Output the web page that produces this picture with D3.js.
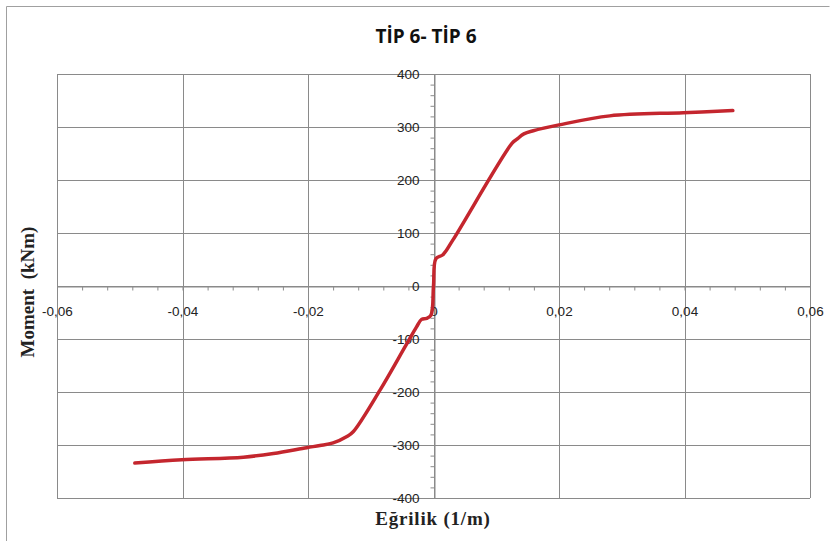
<!DOCTYPE html>
<html>
<head>
<meta charset="utf-8">
<script src="https://cdn.jsdelivr.net/npm/d3@7"></script>
<style>
  body { margin: 0; background: #fff; }
  svg { display: block; }
</style>
</head>
<body>
<svg id="canvas"></svg>
<script>
// curvature (1/m) vs moment (kNm)
let curvature = [-0.0476, -0.0401, -0.0303, -0.0255, -0.0202, -0.0181, -0.0160, -0.0138, -0.0128,
                 -0.0085, -0.0045, -0.0027, -0.0019, -0.0011, -0.0004, 0,
                 0.0004, 0.0015, 0.0031, 0.0125, 0.0133, 0.0144, 0.0159, 0.0200, 0.0281, 0.0398, 0.0477]
let moment = [-334, -328, -323, -316, -305, -301, -296, -284, -275,
              -196, -114, -77, -63, -61, -55, 0,
              52, 59, 87, 269, 277, 287, 293, 304, 321, 327, 331]

let xTicks = [-0.06, -0.04, -0.02, 0, 0.02, 0.04, 0.06]
let yTicks = [-400, -300, -200, -100, 0, 100, 200, 300, 400]

let width = 834
let height = 541
let plotLeft = 57, plotRight = 810, plotTop = 74, plotBottom = 498

let canvas = d3.select('#canvas')
canvas.attr('width', width)
      .attr('height', height)

let xScale = d3.scaleLinear().domain([-0.06, 0.06]).range([plotLeft, plotRight])
let yScale = d3.scaleLinear().domain([-400, 400]).range([plotBottom, plotTop])

// Turkish style: comma decimals, plain hyphen for minus
let locale = d3.formatLocale({decimal: ',', thousands: '.', grouping: [3], currency: ['', ''], minus: '-'})
let fmtX = (d) => d === 0 ? '0' : locale.format('.2f')(d)
let fmtY = locale.format('d')

/* chart frame (only left/top edges show) */
canvas.append('path')
      .attr('d', 'M6.5,560 V6.5 H829.5')
      .attr('fill', 'none')
      .attr('stroke', '#a0a0a0')

/* grid */
canvas.append('g').selectAll('line')
      .data(xTicks).enter().append('line')
      .attr('x1', (d) => Math.round(xScale(d)) + 0.5)
      .attr('x2', (d) => Math.round(xScale(d)) + 0.5)
      .attr('y1', plotTop).attr('y2', plotBottom)
      .attr('stroke', '#8a8a8a')
canvas.append('g').selectAll('line')
      .data(yTicks).enter().append('line')
      .attr('y1', (d) => Math.round(yScale(d)) + 0.5)
      .attr('y2', (d) => Math.round(yScale(d)) + 0.5)
      .attr('x1', plotLeft).attr('x2', plotRight)
      .attr('stroke', '#8a8a8a')

/* minor ticks on the zero axes */
let x0 = Math.round(xScale(0)) + 0.5
let y0 = Math.round(yScale(0)) + 0.5

let xMinor = canvas.append('g')
      .attr('transform', 'translate(0,' + y0 + ')')
      .call(d3.axisBottom(xScale)
              .tickValues(d3.range(-60, 61, 4).map((d) => d / 1000))
              .tickSize(4).tickSizeOuter(0).tickFormat(''))
xMinor.selectAll('line, path').attr('stroke', '#8a8a8a')

let yMinor = canvas.append('g')
      .attr('transform', 'translate(' + x0 + ',0)')
      .call(d3.axisLeft(yScale)
              .tickValues(d3.range(-400, 401, 20))
              .tickSize(4).tickSizeOuter(0).tickFormat(''))
yMinor.selectAll('line, path').attr('stroke', '#8a8a8a')

/* tick labels */
let xLab = canvas.append('g')
      .attr('transform', 'translate(0,' + y0 + ')')
      .call(d3.axisBottom(xScale).tickValues(xTicks).tickSize(0).tickPadding(20).tickFormat(fmtX))
xLab.select('.domain').remove()
xLab.selectAll('text')
    .attr('font-family', 'Liberation Sans, Arial, sans-serif')
    .attr('font-size', 13.5).attr('fill', '#222')

let yLab = canvas.append('g')
      .attr('transform', 'translate(' + x0 + ',0)')
      .call(d3.axisLeft(yScale).tickValues(yTicks).tickSize(0).tickPadding(15).tickFormat(fmtY))
yLab.select('.domain').remove()
yLab.selectAll('text')
    .attr('font-family', 'Liberation Sans, Arial, sans-serif')
    .attr('font-size', 13.5).attr('fill', '#222')

/* curve */
let line = d3.line()
    .x((d, i) => xScale(curvature[i]))
    .y((d, i) => yScale(moment[i]))
    .curve(d3.curveCatmullRom.alpha(0.5))

canvas.append('path')
      .datum(moment)
      .attr('d', line)
      .attr('fill', 'none')
      .attr('stroke', '#c4262e')
      .attr('stroke-width', 3.5)
      .attr('stroke-linejoin', 'round')
      .attr('stroke-linecap', 'round')

/* titles */
canvas.append('text')
      .attr('x', 426).attr('y', 43)
      .attr('text-anchor', 'middle')
      .attr('font-family', 'Open Sans, sans-serif')
      .attr('font-weight', 'bold')
      .attr('font-size', 19)
      .attr('fill', '#111')
      .text('TİP 6- TİP 6')

canvas.append('text')
      .attr('x', 433).attr('y', 525)
      .attr('text-anchor', 'middle')
      .attr('font-family', 'Liberation Serif, serif')
      .attr('font-weight', 'bold')
      .attr('font-size', 19)
      .attr('letter-spacing', 0.8)
      .attr('fill', '#222')
      .text('Eğrilik (1/m)')

canvas.append('text')
      .attr('transform', 'translate(34,292) rotate(-90)')
      .attr('text-anchor', 'middle')
      .attr('font-family', 'Liberation Serif, serif')
      .attr('font-weight', 'bold')
      .attr('font-size', 19)
      .attr('fill', '#222')
      .style('white-space', 'pre')
      .text('Moment  (kNm)')
</script>
</body>
</html>
